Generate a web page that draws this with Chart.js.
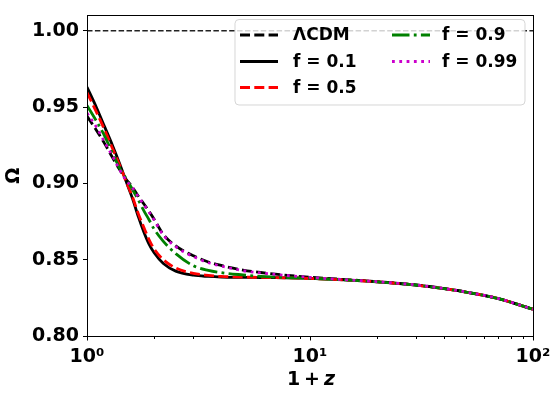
<!DOCTYPE html>
<html>
<head>
<meta charset="utf-8">
<script src="https://cdn.jsdelivr.net/npm/chart.js@4/dist/chart.umd.min.js"></script>
<style>
  html, body { margin: 0; padding: 0; background: #fff; }
  #c { display: block; }
</style>
</head>
<body>
<canvas id="c" width="559" height="395"></canvas>
<script>
// ---- data ----
const xValues = [1, 1.1, 1.2, 1.3, 1.4, 1.5, 1.6, 1.7, 1.8, 1.9, 2.0, 2.2, 2.5, 3, 3.5, 4, 5, 6, 7, 10, 15, 20, 30, 40, 50, 70, 100];
const omegaLCDM = [0.944, 0.935, 0.926, 0.917, 0.909, 0.9025, 0.8975, 0.8915, 0.8865, 0.8815, 0.8765, 0.8665, 0.859, 0.8525, 0.8485, 0.8462, 0.8432, 0.8416, 0.8405, 0.8385, 0.8368, 0.8356, 0.8334, 0.8311, 0.8288, 0.8245, 0.8175];
const omegaF01  = [0.963, 0.950, 0.937, 0.925, 0.913, 0.901, 0.890, 0.878, 0.868, 0.860, 0.8545, 0.8475, 0.8425, 0.8398, 0.8390, 0.8386, 0.8384, 0.8383, 0.8382, 0.8377, 0.8366, 0.8355, 0.8333, 0.8310, 0.8288, 0.8245, 0.8175];
const omegaF05  = [0.9595, 0.947, 0.935, 0.923, 0.912, 0.901, 0.891, 0.880, 0.871, 0.863, 0.857, 0.850, 0.8445, 0.841, 0.8397, 0.839, 0.8386, 0.8384, 0.8382, 0.8377, 0.8366, 0.8355, 0.8333, 0.8310, 0.8288, 0.8245, 0.8175];
const omegaF09  = [0.951, 0.941, 0.931, 0.920, 0.910, 0.903, 0.896, 0.889, 0.882, 0.876, 0.870, 0.862, 0.854, 0.846, 0.843, 0.8415, 0.8400, 0.8390, 0.8385, 0.8378, 0.8366, 0.8355, 0.8333, 0.8310, 0.8288, 0.8245, 0.8175];
const omegaF099 = [0.946, 0.937, 0.927, 0.918, 0.909, 0.902, 0.897, 0.891, 0.886, 0.881, 0.876, 0.866, 0.8585, 0.852, 0.848, 0.8458, 0.8428, 0.8413, 0.8403, 0.8384, 0.8367, 0.8356, 0.8334, 0.8311, 0.8288, 0.8245, 0.8175];
const refLine = { x: [1, 100], y: [1.0, 1.0] };
const yTicks = [0.80, 0.85, 0.90, 0.95, 1.00];
const xMajorTicks = [1, 10, 100];
const xTickLabels = ['10\u2070', '10\u00B9', '10\u00B2'];
const legendLabels = ['\u039BCDM', 'f = 0.1', 'f = 0.5', 'f = 0.9', 'f = 0.99'];

const FONT = "'DejaVu Sans', sans-serif";
const pts = (ys) => xValues.map((x, i) => ({ x: x, y: ys[i] }));
const LW = 2.8;

const datasets = [
  { label: '', data: refLine.x.map((x, i) => ({ x: x, y: refLine.y[i] })), borderColor: '#222', borderWidth: 1.5, borderDash: [5.5, 2.4], order: 6, legend: false },
  { label: legendLabels[0], data: pts(omegaLCDM), borderColor: '#000', borderWidth: LW, borderDash: [10, 4.3], order: 5 },
  { label: legendLabels[1], data: pts(omegaF01), borderColor: '#000', borderWidth: LW, borderDash: [], order: 4 },
  { label: legendLabels[2], data: pts(omegaF05), borderColor: '#ff0000', borderWidth: LW, borderDash: [10, 4.3], order: 3 },
  { label: legendLabels[3], data: pts(omegaF09), borderColor: '#008000', borderWidth: LW, borderDash: [17.5, 4.3, 2.8, 4.3], order: 2 },
  { label: legendLabels[4], data: pts(omegaF099), borderColor: '#cc00cc', borderWidth: LW, borderDash: [2.8, 4.5], order: 1 }
];
datasets.forEach(d => { d.pointRadius = 0; d.fill = false; d.cubicInterpolationMode = 'monotone'; d.borderCapStyle = 'butt'; });

const extras = {
  id: 'extras',
  afterDatasetsDraw(chart) {
    const { ctx, chartArea: a, scales } = chart;
    ctx.save();
    // frame
    ctx.strokeStyle = '#000';
    ctx.lineWidth = 1;
    ctx.setLineDash([]);
    const L = Math.round(a.left) + 0.5, T = Math.round(a.top) + 0.5;
    const R = Math.round(a.right) + 0.5, B = Math.round(a.bottom) + 0.5;
    ctx.strokeRect(L, T, R - L, B - T);
    // x ticks (major + minor)
    const xs = scales.x;
    xs.ticks.forEach(t => {
      const px = Math.round(xs.getPixelForValue(t.value)) + 0.5;
      const len = xMajorTicks.includes(t.value) ? 4 : 2.5;
      ctx.beginPath(); ctx.moveTo(px, B); ctx.lineTo(px, B + len); ctx.stroke();
    });
    // x title: 1 + z
    ctx.fillStyle = '#000';
    ctx.textBaseline = 'alphabetic';
    ctx.font = 'bold 19px ' + FONT;
    const w1 = ctx.measureText('1').width, wp = ctx.measureText('+').width;
    ctx.font = 'italic bold 19px ' + FONT;
    const wz = ctx.measureText('z').width;
    const gap = 4;
    const total = w1 + gap + wp + gap + wz;
    const cx = (a.left + a.right) / 2 + 1;
    let x0 = cx - total / 2;
    const by = 385;
    ctx.font = 'bold 19px ' + FONT;
    ctx.textAlign = 'left';
    ctx.fillText('1', x0, by); x0 += w1 + gap;
    ctx.fillText('+', x0, by); x0 += wp + gap;
    ctx.font = 'italic bold 19px ' + FONT;
    ctx.fillText('z', x0, by);

    // legend
    const bx = 235, bY = 19.5, bw = 290, bh = 85.5, r = 4;
    ctx.beginPath();
    ctx.moveTo(bx + r, bY);
    ctx.lineTo(bx + bw - r, bY); ctx.quadraticCurveTo(bx + bw, bY, bx + bw, bY + r);
    ctx.lineTo(bx + bw, bY + bh - r); ctx.quadraticCurveTo(bx + bw, bY + bh, bx + bw - r, bY + bh);
    ctx.lineTo(bx + r, bY + bh); ctx.quadraticCurveTo(bx, bY + bh, bx, bY + bh - r);
    ctx.lineTo(bx, bY + r); ctx.quadraticCurveTo(bx, bY, bx + r, bY);
    ctx.closePath();
    ctx.fillStyle = 'rgba(255,255,255,0.8)';
    ctx.fill();
    ctx.strokeStyle = 'rgba(204,204,204,0.8)';
    ctx.lineWidth = 1;
    ctx.stroke();

    const items = chart.data.datasets.filter(d => d.legend !== false);
    const rowsY = [35, 61.5, 87.5];
    const cols = [{ h0: 240, h1: 278, tx: 293 }, { h0: 392, h1: 430, tx: 442 }];
    items.forEach((d, i) => {
      const col = cols[Math.floor(i / 3)];
      const y = rowsY[i % 3];
      ctx.save();
      ctx.beginPath();
      ctx.strokeStyle = d.borderColor;
      ctx.lineWidth = d.borderWidth;
      ctx.setLineDash(d.borderDash || []);
      ctx.lineCap = 'butt';
      ctx.moveTo(col.h0, y); ctx.lineTo(col.h1, y);
      ctx.stroke();
      ctx.restore();
      ctx.fillStyle = '#000';
      ctx.font = 'bold 17px ' + FONT;
      ctx.textAlign = 'left';
      ctx.textBaseline = 'middle';
      ctx.fillText(d.label, col.tx, y + 1);
    });
    ctx.restore();
  }
};

new Chart(document.getElementById('c'), {
  type: 'line',
  data: { datasets: datasets },
  options: {
    responsive: false,
    devicePixelRatio: 1,
    animation: false,
    events: [],
    layout: { padding: { left: 0, right: 26, top: 10, bottom: 0 } },
    plugins: { legend: { display: false }, tooltip: { enabled: false } },
    scales: {
      x: {
        type: 'logarithmic',
        min: 1, max: 100,
        afterBuildTicks: (s) => {
          const t = [];
          [1, 10].forEach(dec => { for (let k = 1; k <= 9; k++) t.push({ value: k * dec }); });
          t.push({ value: 100 });
          s.ticks = t;
        },
        afterFit: (s) => { s.height = 59; },
        grid: { display: false, drawTicks: true, tickLength: 4 },
        border: { display: false },
        ticks: {
          autoSkip: false, maxRotation: 0, padding: 6, color: '#000',
          font: { family: FONT, size: 19, weight: 'bold' },
          callback: (v) => { const i = xMajorTicks.indexOf(v); return i >= 0 ? xTickLabels[i] : ''; }
        },
        title: { display: false }
      },
      y: {
        type: 'linear',
        min: 0.80, max: 1.01,
        afterBuildTicks: (s) => { s.ticks = yTicks.map(v => ({ value: v })); },
        afterFit: (s) => { s.width = 87; },
        grid: { display: true, drawOnChartArea: false, drawTicks: true, tickLength: 4, color: '#000', lineWidth: 1 },
        border: { display: false },
        ticks: {
          padding: 4, color: '#000',
          font: { family: FONT, size: 19, weight: 'bold' },
          callback: (v) => Number(v).toFixed(2)
        },
        title: { display: true, text: '\u03A9', color: '#000', font: { family: FONT, size: 19, weight: 'bold' }, padding: { top: 3, bottom: 0 } }
      }
    }
  },
  plugins: [extras]
});
</script>
</body>
</html>
